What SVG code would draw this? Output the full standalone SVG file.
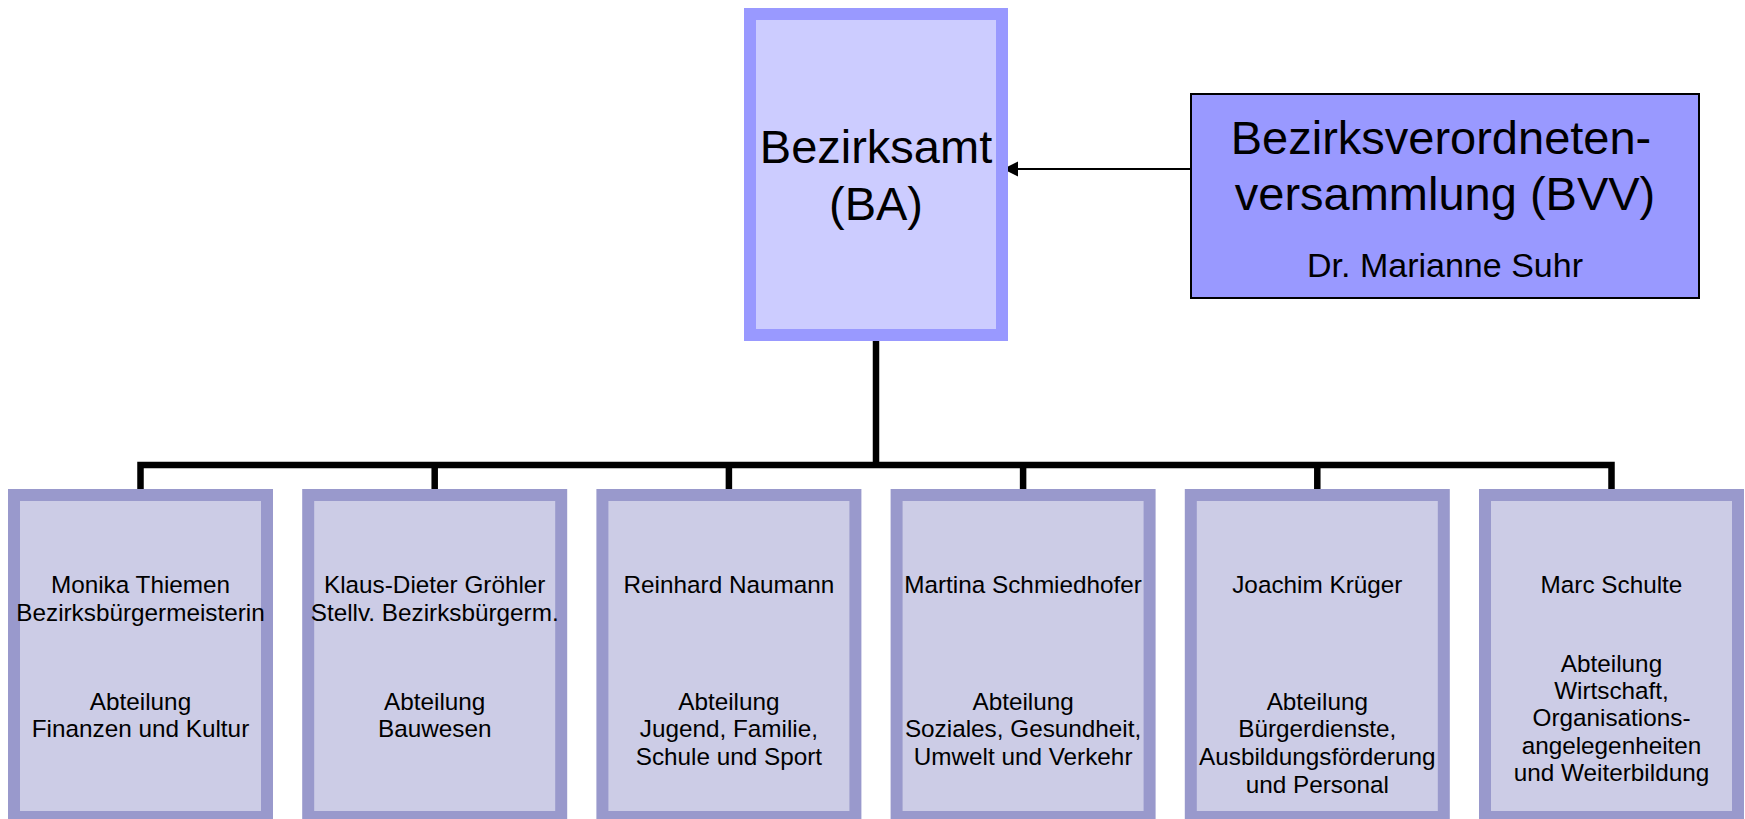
<svg xmlns="http://www.w3.org/2000/svg" width="1745" height="819" viewBox="0 0 1745 819">
<style>
text{font-family:"Liberation Sans",Arial,sans-serif;fill:#000;text-anchor:middle}
.big{font-size:47px}
.sub{font-size:34px}
.small{font-size:24.3px}
.ba{fill:#CCCCFF;stroke:#9999FF;stroke-width:12}
.bvv{fill:#9999FF;stroke:#000;stroke-width:2}
.dept{fill:#CCCCE6;stroke:#9999CC;stroke-width:12}
.conn{fill:none;stroke:#000;stroke-width:6.5;stroke-linejoin:miter}
</style>
<defs>
<marker id="arr" markerWidth="16" markerHeight="16" refX="15" refY="7.5" orient="auto" markerUnits="userSpaceOnUse">
<path d="M0,0 L15,7.5 L0,15 Z" fill="#000"/>
</marker>
</defs>
<rect width="1745" height="819" fill="#fff"/>
<g id="connectors">
<path class="conn" d="M876,341 V465"/>
<path class="conn" d="M140.5,489 V465 H1611.5 V489"/>
<path class="conn" d="M434.7,465 V489 M728.9,465 V489 M1023.1,465 V489 M1317.3,465 V489"/>
<line x1="1191" y1="169" x2="1003" y2="169" stroke="#000" stroke-width="2" marker-end="url(#arr)"/>
</g>
<g id="node-ba">
<rect class="ba" x="750" y="14" width="252" height="321"/>
<text class="big" x="876" y="163">Bezirksamt</text>
<text class="big" x="876" y="220">(BA)</text>
</g>
<g id="node-bvv">
<rect class="bvv" x="1191" y="94" width="508" height="204"/>
<text class="big" x="1441" y="154">Bezirksverordneten-</text>
<text class="big" x="1445" y="210">versammlung (BVV)</text>
<text class="sub" x="1445" y="277">Dr. Marianne Suhr</text>
</g>
<g id="dept-1">
<rect class="dept" x="14" y="495" width="253" height="322"/>
<text class="small" x="140.5" y="593">Monika Thiemen</text>
<text class="small" x="140.5" y="621">Bezirksbürgermeisterin</text>
<text class="small" x="140.5" y="710">Abteilung</text>
<text class="small" x="140.5" y="737">Finanzen und Kultur</text>
</g>
<g id="dept-2">
<rect class="dept" x="308.2" y="495" width="253" height="322"/>
<text class="small" x="434.7" y="593">Klaus-Dieter Gröhler</text>
<text class="small" x="434.7" y="621">Stellv. Bezirksbürgerm.</text>
<text class="small" x="434.7" y="710">Abteilung</text>
<text class="small" x="434.7" y="737">Bauwesen</text>
</g>
<g id="dept-3">
<rect class="dept" x="602.4" y="495" width="253" height="322"/>
<text class="small" x="728.9" y="593">Reinhard Naumann</text>
<text class="small" x="728.9" y="710">Abteilung</text>
<text class="small" x="728.9" y="737">Jugend, Familie,</text>
<text class="small" x="728.9" y="765">Schule und Sport</text>
</g>
<g id="dept-4">
<rect class="dept" x="896.6" y="495" width="253" height="322"/>
<text class="small" x="1023.1" y="593">Martina Schmiedhofer</text>
<text class="small" x="1023.1" y="710">Abteilung</text>
<text class="small" x="1023.1" y="737">Soziales, Gesundheit,</text>
<text class="small" x="1023.1" y="765">Umwelt und Verkehr</text>
</g>
<g id="dept-5">
<rect class="dept" x="1190.8" y="495" width="253" height="322"/>
<text class="small" x="1317.3" y="593">Joachim Krüger</text>
<text class="small" x="1317.3" y="710">Abteilung</text>
<text class="small" x="1317.3" y="737">Bürgerdienste,</text>
<text class="small" x="1317.3" y="765">Ausbildungsförderung</text>
<text class="small" x="1317.3" y="793">und Personal</text>
</g>
<g id="dept-6">
<rect class="dept" x="1485" y="495" width="253" height="322"/>
<text class="small" x="1611.5" y="593">Marc Schulte</text>
<text class="small" x="1611.5" y="672">Abteilung</text>
<text class="small" x="1611.5" y="699">Wirtschaft,</text>
<text class="small" x="1611.5" y="726">Organisations-</text>
<text class="small" x="1611.5" y="754">angelegenheiten</text>
<text class="small" x="1611.5" y="781">und Weiterbildung</text>
</g>
</svg>
